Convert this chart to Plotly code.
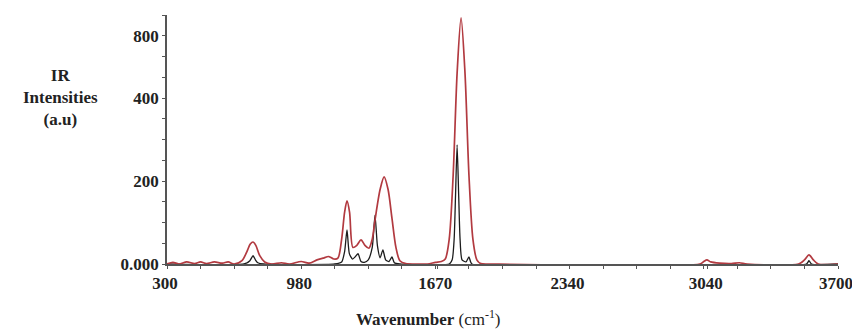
import plotly.graph_objects as go

# Red (broadened) spectrum: wavenumber, intensity (in displayed axis units)
red_x = [300, 330, 360, 400, 440, 470, 500, 540, 580, 610, 640, 680, 705, 722, 736, 750, 770, 795, 830,
         880, 920, 980, 1020, 1060, 1090, 1120, 1145, 1166, 1185, 1200, 1212, 1225, 1242, 1262, 1283,
         1303, 1323, 1340, 1354, 1380, 1400, 1420, 1440, 1460, 1480, 1510, 1560, 1620, 1660, 1690,
         1710, 1730, 1750, 1770, 1790, 1810, 1830, 1850, 1870, 1890, 1950, 3000, 3020, 3036, 3055,
         3100, 3160, 3200, 3240, 3500, 3530, 3553, 3575, 3600, 3700]
red_y = [0, 4, 0, 5, 1, 5, 1, 5, 2, 5, 0, 8, 30, 48, 53, 45, 20, 5, 0,
         3, 0, 6, 2, 10, 14, 18, 12, 14, 60, 125, 152, 125, 40, 45, 58,
         45, 38, 60, 106, 180, 210, 180, 110, 40, 8, 1, 0, 0, 4, 6,
         12, 60, 214, 460, 593, 460, 214, 60, 10, 1, 0, 0, 6, 10, 5,
         2, 1, 3, 0, 0, 10, 22, 10, 0, 0]

# Black (stick-like) spectrum
black_x = [300, 690, 720, 736, 748, 760, 790, 1150, 1185, 1200, 1212, 1224, 1240, 1255, 1268, 1283,
           1300, 1320, 1340, 1354, 1366, 1380, 1394, 1408, 1425, 1440, 1452, 1480, 1730,
           1745, 1755, 1762, 1770, 1778, 1785, 1795, 1815, 1830, 1845, 3540, 3553, 3566, 3700]
black_y = [0, 0, 8, 20, 10, 3, 0, 0, 5, 30, 82, 25, 12, 18, 25, 6,
           4, 10, 40, 118, 45, 15, 34, 10, 6, 17, 3, 0, 0,
           10, 60, 165, 287, 165, 60, 10, 5, 17, 0, 0, 8, 0, 0]

# Axis labels
x_tickvals = [300, 980, 1670, 2340, 3040, 3700]
x_ticktext = ["300", "980", "1670", "2340", "3040", "3700"]
y_tickvals = [0, 200, 400, 550]
y_ticktext = ["0.000", "200", "400", "800"]

fig = go.Figure()
fig.add_trace(go.Scatter(x=black_x, y=black_y, mode="lines",
                         line=dict(color="#1c1c1c", width=1.3, shape="spline", smoothing=0.6)))
fig.add_trace(go.Scatter(x=red_x, y=red_y, mode="lines",
                         line=dict(color="#b23a40", width=1.7, shape="spline", smoothing=0.8)))

font_axis = dict(family="Liberation Serif", size=17, color="#222", weight="bold")

fig.update_layout(
    width=852, height=330,
    margin=dict(l=167, r=14, t=15, b=66),
    paper_bgcolor="white", plot_bgcolor="white",
    showlegend=False,
    xaxis=dict(range=[300, 3700], tickvals=x_tickvals, ticktext=x_ticktext, automargin=False,
               showgrid=False, zeroline=False, showline=True, linecolor="#555", linewidth=1.5,
               ticks="outside", ticklen=3, tickcolor="#555", tickfont=font_axis,
               ticklabeloverflow="allow", ticklabelshift=-2,
               minor=dict(tickmode="linear", tick0=300, dtick=170, ticks="outside", ticklen=3,
                          tickcolor="#555", showgrid=False)),
    yaxis=dict(range=[0, 600], tickvals=y_tickvals, ticktext=y_ticktext, automargin=False,
               showgrid=False, zeroline=False, showline=True, linecolor="#555", linewidth=1.5,
               ticks="outside", ticklen=3, tickcolor="#555", tickfont=font_axis,
               minor=dict(tickmode="linear", tick0=0, dtick=50, ticks="outside", ticklen=3,
                          tickcolor="#555", showgrid=False)),
    annotations=[
        dict(text="<b>IR</b><br><b>Intensities</b><br><b>(a.u)</b>", xref="paper", yref="paper",
             x=-0.159, y=0.67, xanchor="center", yanchor="middle", showarrow=False,
             font=dict(family="Liberation Serif", size=17, color="#222")),
        dict(text="<b>Wavenumber</b> (cm<sup>-1</sup>)", xref="paper", yref="paper",
             x=0.39, y=-0.217, xanchor="center", yanchor="middle", showarrow=False,
             font=dict(family="Liberation Serif", size=17, color="#222")),
    ],
)

fig.write_html("out.html", config={"displayModeBar": False},
               post_script="document.body.style.margin='0';document.body.style.overflow='hidden';")
